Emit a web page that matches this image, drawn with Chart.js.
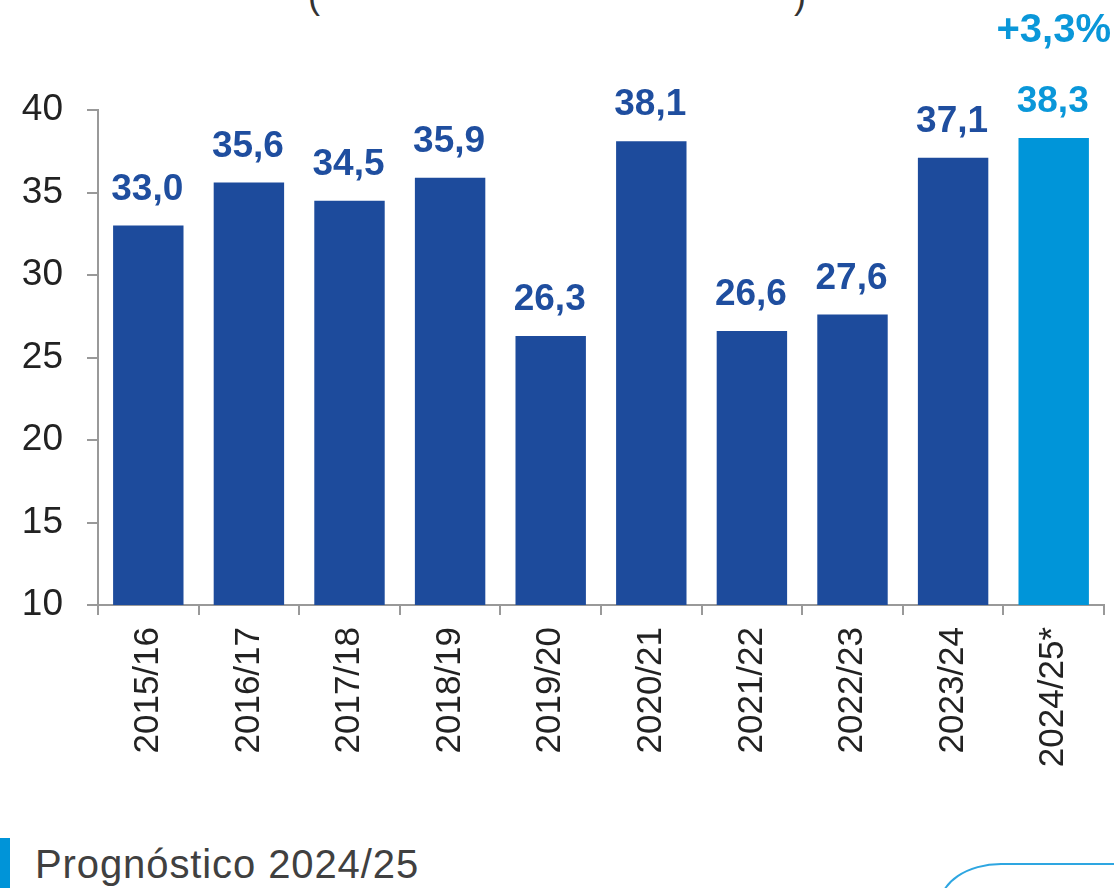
<!DOCTYPE html>
<html>
<head>
<meta charset="utf-8">
<script src="https://cdn.jsdelivr.net/npm/chart.js@4/dist/chart.umd.min.js"></script>
<style>
  html, body { margin: 0; padding: 0; background: #fff; width: 1114px; height: 888px; overflow: hidden; position: relative; font-family: "Liberation Sans", Arial, sans-serif; }
  #wrap { position: absolute; left: 0; top: 0; width: 1114px; height: 800px; }
  .paren { position: absolute; top: -22px; font-size: 36px; line-height: 36px; color: #333; }
  #legbar { position: absolute; left: 0; top: 838px; width: 10px; height: 50px; background: #0094d8; }
  #legtext { position: absolute; left: 35px; top: 842px; font-size: 40px; line-height: 44px; letter-spacing: 0.9px; color: #404040; white-space: nowrap; }
  #box { position: absolute; left: 939px; top: 863px; width: 300px; height: 200px; border: 2px solid #2ea6e1; border-radius: 62px / 42px; box-sizing: border-box; }
</style>
</head>
<body>
<span class="paren" style="left:308px">(</span>
<span class="paren" style="left:794px">)</span>
<div id="wrap"><canvas id="c"></canvas></div>
<div id="legbar"></div>
<div id="legtext">Prognóstico 2024/25</div>
<div id="box"></div>
<script>
const categories = ["2015/16","2016/17","2017/18","2018/19","2019/20","2020/21","2021/22","2022/23","2023/24","2024/25*"];
const values = [33.0, 35.6, 34.5, 35.9, 26.3, 38.1, 26.6, 27.6, 37.1, 38.3];
const forecastIndex = 9;
const growthLabel = "+3,3%";
const yMin = 10, yMax = 40, yStep = 5;

const DARK = "#1d4b9c";
const LIGHT = "#0095d9";
const barColors = values.map((v, i) => i === forecastIndex ? LIGHT : DARK);
const labelColors = values.map((v, i) => i === forecastIndex ? "#0a97d9" : "#1f4e9f");
const FONT = '"Liberation Sans", Arial, sans-serif';

const labelPlugin = {
  id: 'valueLabels',
  afterDatasetsDraw(chart) {
    const ctx = chart.ctx;
    const meta = chart.getDatasetMeta(0);
    ctx.save();
    ctx.textAlign = 'center';
    ctx.textBaseline = 'alphabetic';
    meta.data.forEach((bar, i) => {
      ctx.font = 'bold 37px ' + FONT;
      ctx.fillStyle = labelColors[i];
      ctx.fillText(values[i].toFixed(1).replace('.', ','), bar.x - 1, bar.y - 26);
      if (i === forecastIndex) {
        ctx.font = 'bold 40px ' + FONT;
        ctx.fillStyle = "#0a97d9";
        ctx.fillText(growthLabel, bar.x, bar.y - 96);
      }
    });
    ctx.restore();
  }
};

new Chart(document.getElementById('c'), {
  type: 'bar',
  data: {
    labels: categories,
    datasets: [{
      data: values,
      backgroundColor: barColors,
      borderWidth: 0,
      barPercentage: 0.7,
      categoryPercentage: 1.0
    }]
  },
  options: {
    responsive: true,
    maintainAspectRatio: false,
    animation: false,
    events: [],
    layout: { padding: { top: 110, right: 10, left: 0, bottom: 0 } },
    plugins: { legend: { display: false }, tooltip: { enabled: false }, title: { display: false } },
    scales: {
      x: {
        offset: true,
        grid: { display: true, drawOnChartArea: false, drawTicks: true, tickLength: 10, offset: true, color: '#999', lineWidth: 2 },
        border: { display: true, color: '#999', width: 2 },
        ticks: { autoSkip: false, minRotation: 90, maxRotation: 90, padding: 12, color: '#222', font: { family: FONT, size: 35 } },
        afterFit(scale) { scale.height = 195; }
      },
      y: {
        min: yMin, max: yMax,
        grid: { display: true, drawOnChartArea: false, drawTicks: true, tickLength: 11, color: '#999', lineWidth: 2 },
        border: { display: true, color: '#999', width: 2 },
        ticks: { stepSize: yStep, padding: 24, color: '#222', font: { family: FONT, size: 37 } },
        afterFit(scale) { scale.width = 98; }
      }
    }
  },
  plugins: [labelPlugin]
});
</script>
</body>
</html>
